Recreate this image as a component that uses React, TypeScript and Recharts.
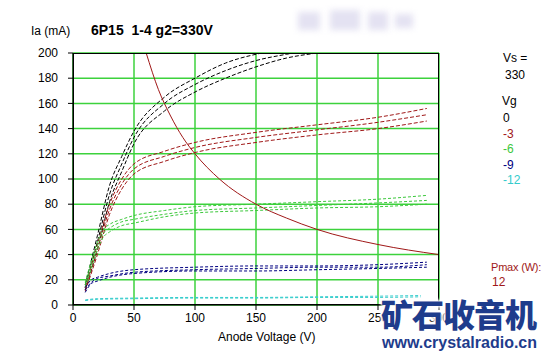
import { CartesianGrid, Line, LineChart, XAxis, YAxis } from 'recharts'

type Pt = { v: number; ia: number }

// anode voltage (V) -> anode current (mA)
const vg0a: Pt[] = [
  { v: 10, ia: 16 }, { v: 20, ia: 55 }, { v: 30, ia: 95 }, { v: 40, ia: 118 }, { v: 50, ia: 138 },
  { v: 75, ia: 165 }, { v: 100, ia: 180 }, { v: 125, ia: 192 }, { v: 150, ia: 199 }, { v: 175, ia: 203 },
]
const vg0b: Pt[] = [
  { v: 10, ia: 14 }, { v: 20, ia: 50 }, { v: 30, ia: 88 }, { v: 40, ia: 112 }, { v: 50, ia: 133 },
  { v: 75, ia: 160 }, { v: 100, ia: 175 }, { v: 125, ia: 186 }, { v: 150, ia: 194 }, { v: 175, ia: 199 }, { v: 200, ia: 203 },
]
const vg0c: Pt[] = [
  { v: 10, ia: 12 }, { v: 20, ia: 44 }, { v: 30, ia: 82 }, { v: 40, ia: 106 }, { v: 50, ia: 128 },
  { v: 75, ia: 154 }, { v: 100, ia: 169 }, { v: 125, ia: 180 }, { v: 150, ia: 189 }, { v: 175, ia: 196 },
  { v: 200, ia: 200 }, { v: 225, ia: 203 },
]

const vg3a: Pt[] = [
  { v: 10, ia: 14 }, { v: 20, ia: 48 }, { v: 30, ia: 80 }, { v: 40, ia: 100 }, { v: 50, ia: 112 },
  { v: 75, ia: 122 }, { v: 100, ia: 129 }, { v: 150, ia: 137 }, { v: 200, ia: 143 }, { v: 250, ia: 149 }, { v: 290, ia: 156 },
]
const vg3b: Pt[] = [
  { v: 10, ia: 12 }, { v: 20, ia: 44 }, { v: 30, ia: 76 }, { v: 40, ia: 96 }, { v: 50, ia: 108 },
  { v: 75, ia: 118 }, { v: 100, ia: 125 }, { v: 150, ia: 133 }, { v: 200, ia: 139 }, { v: 250, ia: 145 }, { v: 290, ia: 151 },
]
const vg3c: Pt[] = [
  { v: 10, ia: 11 }, { v: 20, ia: 40 }, { v: 30, ia: 72 }, { v: 40, ia: 92 }, { v: 50, ia: 104 },
  { v: 75, ia: 114 }, { v: 100, ia: 121 }, { v: 150, ia: 129 }, { v: 200, ia: 135 }, { v: 250, ia: 140 }, { v: 290, ia: 146 },
]

const vg6a: Pt[] = [
  { v: 10, ia: 18 }, { v: 15, ia: 35 }, { v: 20, ia: 50 }, { v: 25, ia: 60 }, { v: 30, ia: 64 }, { v: 40, ia: 68 },
  { v: 50, ia: 71 }, { v: 75, ia: 75 }, { v: 100, ia: 78 }, { v: 150, ia: 80 }, { v: 200, ia: 82 }, { v: 250, ia: 84 }, { v: 290, ia: 87 },
]
const vg6b: Pt[] = [
  { v: 10, ia: 16 }, { v: 15, ia: 32 }, { v: 20, ia: 47 }, { v: 25, ia: 57 }, { v: 30, ia: 61 }, { v: 40, ia: 66 },
  { v: 50, ia: 68 }, { v: 75, ia: 72 }, { v: 100, ia: 75 }, { v: 150, ia: 77 }, { v: 200, ia: 79 }, { v: 250, ia: 81 }, { v: 290, ia: 83 },
]
const vg6c: Pt[] = [
  { v: 10, ia: 14 }, { v: 15, ia: 29 }, { v: 20, ia: 44 }, { v: 25, ia: 54 }, { v: 30, ia: 58 }, { v: 40, ia: 63 },
  { v: 50, ia: 65 }, { v: 75, ia: 70 }, { v: 100, ia: 73 }, { v: 150, ia: 75 }, { v: 200, ia: 77 }, { v: 250, ia: 78 }, { v: 290, ia: 80 },
]

const vg9a: Pt[] = [
  { v: 10, ia: 14 }, { v: 15, ia: 20 }, { v: 20, ia: 22 }, { v: 30, ia: 25 }, { v: 50, ia: 28 },
  { v: 100, ia: 30 }, { v: 150, ia: 31 }, { v: 200, ia: 31 }, { v: 250, ia: 32 }, { v: 290, ia: 34 },
]
const vg9b: Pt[] = [
  { v: 10, ia: 12 }, { v: 15, ia: 18 }, { v: 20, ia: 21 }, { v: 30, ia: 23 }, { v: 50, ia: 26 },
  { v: 100, ia: 28 }, { v: 150, ia: 29 }, { v: 200, ia: 30 }, { v: 250, ia: 30 }, { v: 290, ia: 32 },
]
const vg9c: Pt[] = [
  { v: 10, ia: 10 }, { v: 15, ia: 17 }, { v: 20, ia: 19 }, { v: 30, ia: 22 }, { v: 50, ia: 25 },
  { v: 100, ia: 27 }, { v: 150, ia: 27 }, { v: 200, ia: 28 }, { v: 250, ia: 29 }, { v: 290, ia: 30 },
]

const vg12a: Pt[] = [
  { v: 10, ia: 4 }, { v: 20, ia: 5 }, { v: 50, ia: 5.5 }, { v: 100, ia: 6 }, { v: 150, ia: 6 },
  { v: 200, ia: 6.5 }, { v: 250, ia: 7 }, { v: 285, ia: 7.5 },
]
const vg12b: Pt[] = [
  { v: 10, ia: 3.5 }, { v: 20, ia: 4.5 }, { v: 50, ia: 5 }, { v: 100, ia: 5.5 }, { v: 150, ia: 5.5 },
  { v: 200, ia: 6 }, { v: 250, ia: 6 }, { v: 285, ia: 6.5 },
]

// 12 W dissipation limit
const pmax: Pt[] = [
  { v: 60, ia: 200 }, { v: 70, ia: 171 }, { v: 80, ia: 150 }, { v: 90, ia: 133 }, { v: 100, ia: 120 },
  { v: 120, ia: 100 }, { v: 150, ia: 80 }, { v: 175, ia: 69 }, { v: 200, ia: 60 }, { v: 250, ia: 48 }, { v: 300, ia: 40 },
]

const xTicks = [0, 50, 100, 150, 200, 250, 300]
const yTicks = [0, 20, 40, 60, 80, 100, 120, 140, 160, 180, 200]

const legendVg = [
  { label: '0', color: '#000000' },
  { label: '-3', color: '#a01818' },
  { label: '-6', color: '#3cc83c' },
  { label: '-9', color: '#000080' },
  { label: '-12', color: '#33cccc' },
]

const groups = [
  { curves: [vg0a, vg0b, vg0c], color: '#000000', dash: '4 2' },
  { curves: [vg3a, vg3b, vg3c], color: '#a01818', dash: '4 2' },
  { curves: [vg6a, vg6b, vg6c], color: '#3cc83c', dash: '3 2' },
  { curves: [vg9a, vg9b, vg9c], color: '#000080', dash: '3 2' },
  { curves: [vg12a, vg12b], color: '#33cccc', dash: '3 2' },
]

const font = 'Arial, "Liberation Sans", sans-serif'
const halo = '0 0 2px #fff, 0 0 3px #fff, 0 0 4px #fff, 0 0 4px #fff'

export default function App() {
  return (
    <div style={{ position: 'absolute', left: 0, top: 0, width: 547, height: 357, background: '#fff', fontFamily: font, overflow: 'hidden' }}>
      {/* blurred blocks at the top */}
      {[[298, 12, 22, 18], [330, 10, 30, 20], [368, 12, 20, 18], [395, 14, 18, 14]].map(([x, y, w, h], i) => (
        <div key={i} style={{ position: 'absolute', left: x, top: y, width: w, height: h, background: '#e4e2f2', filter: 'blur(3px)' }} />
      ))}
      <LineChart width={547} height={357} margin={{ top: 53, right: 108, bottom: 22, left: 0 }}>
        <CartesianGrid stroke="#3cd23c" strokeWidth={1.5} />
        <XAxis
          type="number"
          dataKey="v"
          domain={[0, 300]}
          ticks={xTicks}
          height={30}
          tickSize={5}
          tickMargin={3}
          stroke="#000"
          tick={{ fill: '#000', fontSize: 12, fontFamily: font }}
        />
        <YAxis
          type="number"
          dataKey="ia"
          domain={[0, 200]}
          ticks={yTicks}
          allowDataOverflow
          width={73}
          tickSize={5}
          tickMargin={10}
          stroke="#000"
          tick={{ fill: '#000', fontSize: 12, fontFamily: font }}
        />
        {groups.flatMap((g, gi) =>
          g.curves.map((c, ci) => (
            <Line
              key={`${gi}-${ci}`}
              data={c}
              dataKey="ia"
              type="monotone"
              stroke={g.color}
              strokeWidth={1}
              strokeDasharray={g.dash}
              dot={false}
              isAnimationActive={false}
            />
          )),
        )}
        <Line data={pmax} dataKey="ia" type="monotone" stroke="#a01818" strokeWidth={1} dot={false} isAnimationActive={false} />
      </LineChart>
      <div style={{ position: 'absolute', left: 73, top: 53, width: 366, height: 252, border: '1px solid #000', boxSizing: 'border-box', pointerEvents: 'none' }} />
      <div style={{ position: 'absolute', left: 31, top: 24, fontSize: 12 }}>Ia (mA)</div>
      <div style={{ position: 'absolute', left: 91, top: 22, fontSize: 14, fontWeight: 'bold' }}>6P15&nbsp;&nbsp;1-4 g2=330V</div>
      <div style={{ position: 'absolute', left: 218, top: 330, fontSize: 12 }}>Anode Voltage (V)</div>
      <div style={{ position: 'absolute', left: 503, top: 51, fontSize: 12 }}>Vs =</div>
      <div style={{ position: 'absolute', left: 505, top: 68, fontSize: 12 }}>330</div>
      <div style={{ position: 'absolute', left: 502, top: 94, fontSize: 12 }}>Vg</div>
      {legendVg.map((l, i) => (
        <div key={l.label} style={{ position: 'absolute', left: 503, top: 111 + i * 15.5, fontSize: 12, color: l.color }}>{l.label}</div>
      ))}
      <div style={{ position: 'absolute', left: 491, top: 261, fontSize: 11, color: '#a01818', whiteSpace: 'nowrap', letterSpacing: -0.2 }}>Pmax (W):</div>
      <div style={{ position: 'absolute', left: 492, top: 275, fontSize: 12, color: '#a01818' }}>12</div>
      <div style={{ position: 'absolute', left: 381, top: 295, fontSize: 32, fontWeight: 900, color: '#1e3c8c', fontFamily: '"Noto Sans CJK SC", sans-serif', lineHeight: '36px', letterSpacing: -1, whiteSpace: 'nowrap', textShadow: halo }}>矿石收音机</div>
      <div style={{ position: 'absolute', left: 382, top: 334, fontSize: 16, fontWeight: 'bold', color: '#1e3c8c', lineHeight: '17px', whiteSpace: 'nowrap', textShadow: halo }}>www.crystalradio.cn</div>
    </div>
  )
}
